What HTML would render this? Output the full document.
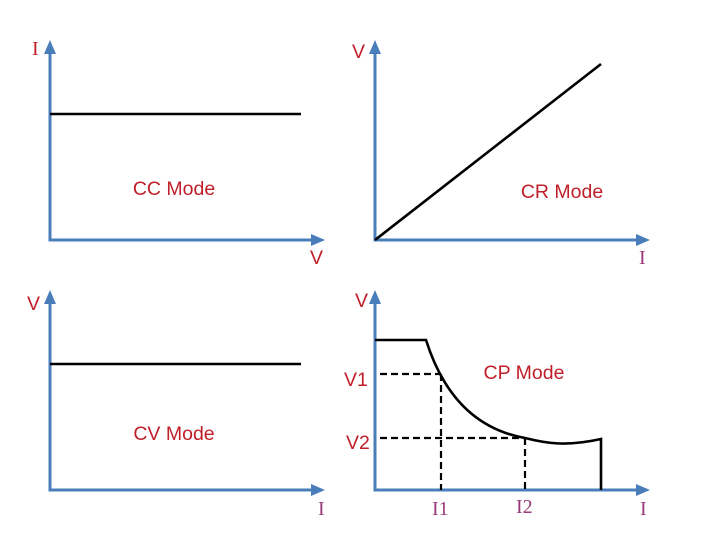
<!DOCTYPE html>
<html><head><meta charset="utf-8"><style>html,body{margin:0;padding:0;background:#fff}svg{display:block}</style></head>
<body>
<svg width="707" height="542" viewBox="0 0 707 542" xmlns="http://www.w3.org/2000/svg">
<g stroke="#4a7ebb" stroke-width="3" fill="none">
<polyline points="50,52 50,240 314,240" />
<polyline points="375,52 375,240 639,240" />
<polyline points="50,302 50,490 314,490" />
<polyline points="375,302 375,490 639,490" />
</g>
<g fill="#4a7ebb">
<path d="M50,40 L44,54 L56,54 Z"/><path d="M375,40 L369,54 L381,54 Z"/>
<path d="M50,290 L44,304 L56,304 Z"/><path d="M375,290 L369,304 L381,304 Z"/>
<path d="M325,240 L311,234 L311,246 Z"/><path d="M650,240 L636,234 L636,246 Z"/>
<path d="M325,490 L311,484 L311,496 Z"/><path d="M650,490 L636,484 L636,496 Z"/>
</g>
<g stroke="#000" stroke-width="2.6" fill="none">
<line x1="50" y1="114" x2="301" y2="114"/>
<line x1="375" y1="240" x2="601" y2="64"/>
<line x1="50" y1="364" x2="301" y2="364"/>
<path d="M375,340 L426,340 C445,400 480,430 525,438 C545,443 565,447 601,439 L601,490"/>
</g>
<g stroke="#000" stroke-width="2.2" stroke-dasharray="7,4" fill="none">
<line x1="380" y1="374" x2="441" y2="374"/>
<line x1="441" y1="374" x2="441" y2="490"/>
<line x1="380" y1="438" x2="525" y2="438"/>
<line x1="525" y1="438" x2="525" y2="490"/>
</g>
<g font-family="Liberation Sans, sans-serif" font-size="19.5" fill="#c0202a">
<text x="174" y="195" text-anchor="middle">CC Mode</text>
<text x="562" y="198" text-anchor="middle">CR Mode</text>
<text x="174" y="440" text-anchor="middle">CV Mode</text>
<text x="524" y="379" text-anchor="middle">CP Mode</text>
<text x="310" y="264">V</text>
<text x="352" y="58">V</text>
<text x="27" y="310">V</text>
<text x="355" y="307">V</text>
<text x="344" y="386">V1</text>
<text x="346" y="449">V2</text>
</g>
<g font-family="Liberation Serif, serif" font-size="20" fill="#c0202a">
<text x="32" y="55">I</text>
</g>
<g font-family="Liberation Serif, serif" font-size="20" fill="#9a3a7a">
<text x="639" y="264">I</text>
<text x="318" y="515">I</text>
<text x="640" y="515">I</text>
<text x="432" y="515">I1</text>
<text x="516" y="513">I2</text>
</g>
</svg>
</body></html>
